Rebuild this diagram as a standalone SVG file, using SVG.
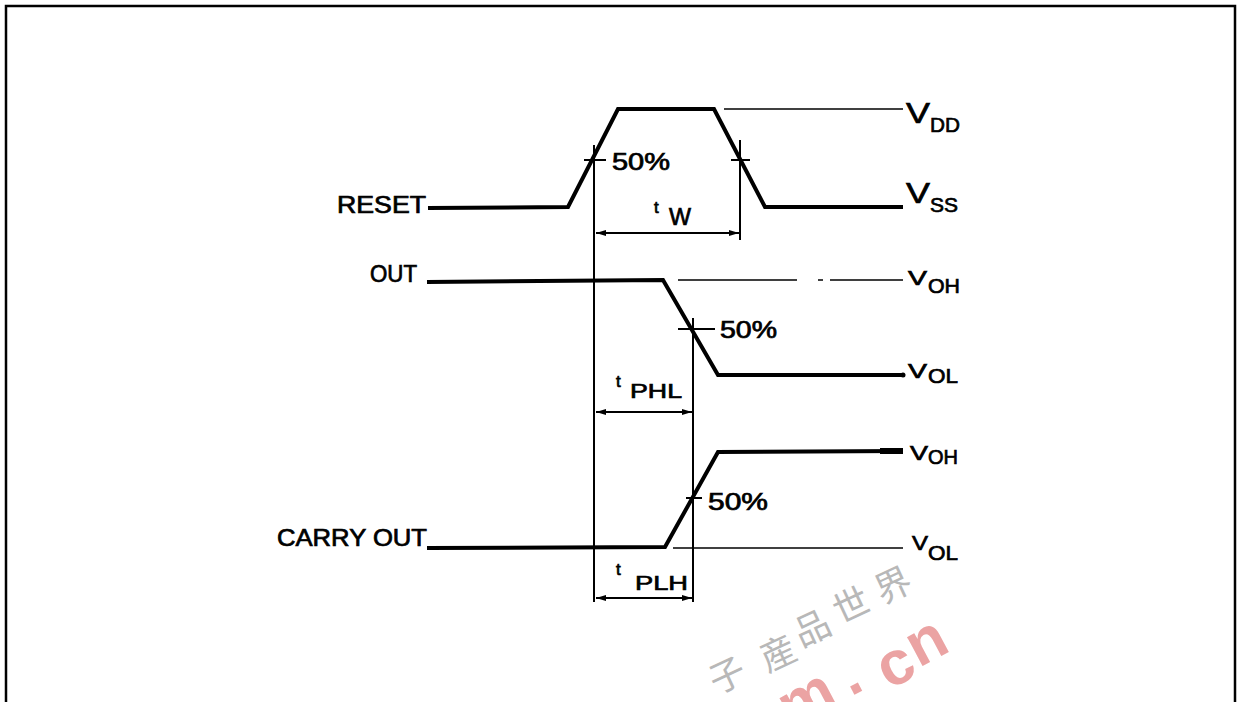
<svg xmlns="http://www.w3.org/2000/svg" width="1237" height="702" viewBox="0 0 1237 702">
<style>
.wave{fill:none;stroke:#000;stroke-width:4;stroke-linejoin:miter;stroke-linecap:butt}
.thin{fill:none;stroke:#000;stroke-width:1.5}
.ref{fill:none;stroke:#000;stroke-width:2}
.dim{fill:none;stroke:#000;stroke-width:1.8;marker-start:url(#ah);marker-end:url(#ah)}
text{font-family:"Liberation Sans",Arial,sans-serif;fill:#000;stroke:#000;stroke-width:0.7}
.lbl{font-size:23px}
.pct{font-size:23px}
.sub{font-size:21px}
.vbig{font-size:30px}
.vsm{font-size:21px}
.tsm{font-size:17px}
.wmc{font-family:"Noto Sans CJK SC","Noto Sans CJK TC",sans-serif;font-size:36px;fill:#b8b8b8;stroke:none;text-anchor:middle}
.wmr{font-size:62px;font-weight:bold;fill:#eba3a3;stroke:none;text-anchor:middle}
</style>
<defs>
<marker id="ah" viewBox="0 0 10 8" refX="10" refY="4" markerWidth="10" markerHeight="8" markerUnits="userSpaceOnUse" orient="auto-start-reverse">
<path d="M0,1 L10,4 L0,7 Z" fill="#000"/>
</marker>
</defs>
<rect width="1237" height="702" fill="#fff"/>
<path d="M6,702 V6 H1235 V702" fill="none" stroke="#000" stroke-width="2.5"/>

<g id="watermark">
<text class="wmc" transform="translate(727,675) rotate(-25)" y="13">子</text>
<text class="wmc" transform="translate(778,653) rotate(-25)" y="13">産</text>
<text class="wmc" transform="translate(812,628) rotate(-25)" y="13">品</text>
<text class="wmc" transform="translate(851,605) rotate(-25)" y="13">世</text>
<text class="wmc" transform="translate(893,585) rotate(-25)" y="13">界</text>
<text class="wmr" transform="translate(808,702) rotate(-28)" y="16">m</text>
<text class="wmr" transform="translate(857,690) rotate(-28)" y="3">.</text>
<text class="wmr" transform="translate(897,668) rotate(-28)" y="16">c</text>
<text class="wmr" transform="translate(928,645) rotate(-28)" y="16">n</text>
</g>

<g id="connectors">
<path class="ref" d="M594,145 V602"/>
<path class="ref" d="M740,140 V240"/>
<path class="ref" d="M693,318 V602"/>
<path class="ref" d="M584,160 H606"/>
<path class="ref" d="M731,160 H750"/>
<path class="ref" d="M678,329 H715"/>
<path class="ref" d="M686,498 H702"/>
<path class="thin" d="M724,109 H903"/>
<path class="thin" d="M678,280 H797 M818,280 H823 M830,280 H903"/>
<path class="thin" d="M673,548 H903"/>
<path class="dim" d="M596,233 H739"/>
<path class="dim" d="M596,412 H692"/>
<path class="dim" d="M596,598 H692"/>
</g>

<g id="reset">
<path class="wave" d="M428,208 L568,207 L618,109 L714,109 L765,207 L903,207"/>
<text class="lbl" x="337" y="213" textLength="89" lengthAdjust="spacingAndGlyphs">RESET</text>
<text class="pct" x="612" y="170" textLength="58" lengthAdjust="spacingAndGlyphs">50%</text>
<text class="tsm" x="654" y="213">t</text>
<text class="lbl" x="669" y="225" textLength="22" lengthAdjust="spacingAndGlyphs">W</text>
</g>

<g id="out">
<path class="wave" d="M427,282 L663,280 L718,375 L903,375"/>
<circle cx="903" cy="375" r="2.5" fill="#000"/>
<text class="lbl" x="370" y="282" textLength="47" lengthAdjust="spacingAndGlyphs">OUT</text>
<text class="pct" x="720" y="338" textLength="57" lengthAdjust="spacingAndGlyphs">50%</text>
<text class="tsm" x="616" y="387">t</text>
<text class="sub" x="630" y="398" textLength="52" lengthAdjust="spacingAndGlyphs">PHL</text>
</g>

<g id="carry-out">
<path class="wave" d="M427,548 L665,547 L718,452 L903,451"/>
<path d="M880,451 H903" stroke="#000" stroke-width="6"/>
<text class="lbl" x="277" y="546" textLength="150" lengthAdjust="spacingAndGlyphs">CARRY OUT</text>
<text class="pct" x="708" y="510" textLength="60" lengthAdjust="spacingAndGlyphs">50%</text>
<text class="tsm" x="616" y="575">t</text>
<text class="sub" x="635" y="590" textLength="53" lengthAdjust="spacingAndGlyphs">PLH</text>
</g>

<g id="levels">
<text class="vbig" x="906" y="123" textLength="24" lengthAdjust="spacingAndGlyphs">V</text>
<text class="sub" x="930" y="132" textLength="30" lengthAdjust="spacingAndGlyphs">DD</text>
<text class="vbig" x="906" y="203" textLength="24" lengthAdjust="spacingAndGlyphs">V</text>
<text class="sub" x="930" y="212" textLength="28" lengthAdjust="spacingAndGlyphs">SS</text>
<text class="vsm" x="908" y="285" textLength="19" lengthAdjust="spacingAndGlyphs">V</text>
<text class="sub" x="928" y="293" textLength="32" lengthAdjust="spacingAndGlyphs">OH</text>
<text class="vsm" x="908" y="378" textLength="19" lengthAdjust="spacingAndGlyphs">V</text>
<text class="sub" x="928" y="383" textLength="30" lengthAdjust="spacingAndGlyphs">OL</text>
<text class="vsm" x="910" y="460" textLength="18" lengthAdjust="spacingAndGlyphs">V</text>
<text class="sub" x="928" y="464" textLength="30" lengthAdjust="spacingAndGlyphs">OH</text>
<text class="vsm" x="912" y="550" textLength="16" lengthAdjust="spacingAndGlyphs">V</text>
<text class="sub" x="928" y="560" textLength="30" lengthAdjust="spacingAndGlyphs">OL</text>
</g>
</svg>
